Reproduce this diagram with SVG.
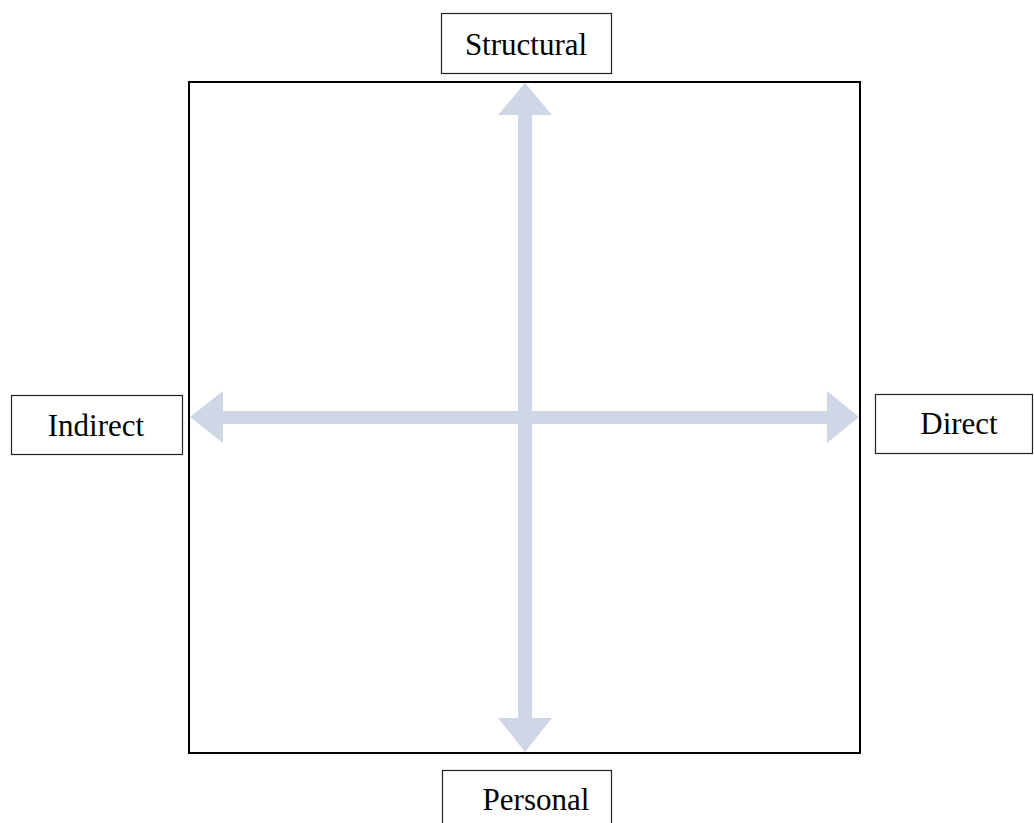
<svg xmlns="http://www.w3.org/2000/svg" width="1034" height="823" viewBox="0 0 1034 823">
<style>
.box{fill:#ffffff;stroke:#222222;stroke-width:1.2}
.lbl{font-family:"Liberation Serif","Times New Roman",serif;font-size:31px;fill:#000000;text-anchor:middle}
.arr{fill:#cfd7e6;stroke:none}
</style>
<rect width="1034" height="823" fill="#ffffff"/>
<rect id="frame" x="189" y="82" width="671" height="671" fill="none" stroke="#000000" stroke-width="2"/>
<g id="connectors">
<polygon class="arr" points="525,83 552,115 532,115 532,718 552,718 525,752 498,718 518,718 518,115 498,115"/>
<polygon class="arr" points="190,417 223,391 223,411 827,411 827,391 859,417 827,443 827,424 223,424 223,443"/>
</g>
<g id="node-structural">
<rect class="box" x="441.5" y="13.5" width="170" height="60"/>
<text class="lbl" x="526" y="55">Structural</text>
</g>
<g id="node-indirect">
<rect class="box" x="11.5" y="395.5" width="171" height="59"/>
<text class="lbl" x="96" y="436">Indirect</text>
</g>
<g id="node-direct">
<rect class="box" x="875.5" y="394.5" width="157" height="59"/>
<text class="lbl" x="959" y="434">Direct</text>
</g>
<g id="node-personal">
<rect class="box" x="442.5" y="770.5" width="169" height="60"/>
<text class="lbl" x="536" y="810">Personal</text>
</g>
</svg>
